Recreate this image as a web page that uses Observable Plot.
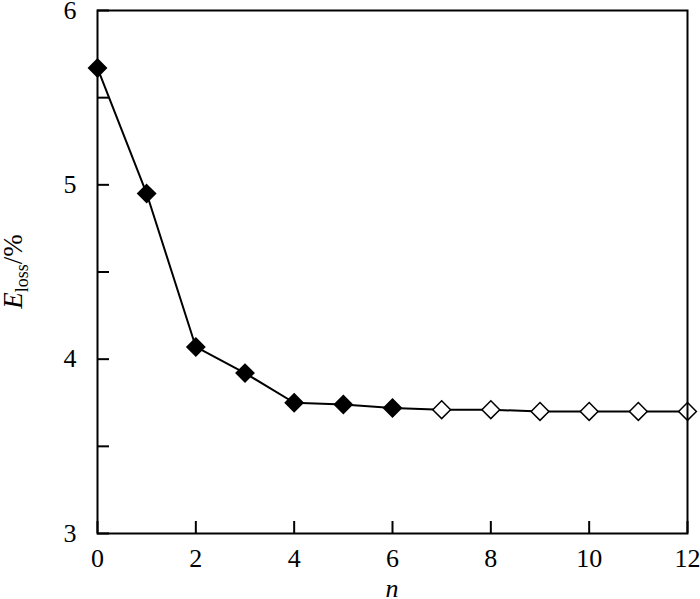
<!DOCTYPE html>
<html><head><meta charset="utf-8">
<script src="https://cdn.jsdelivr.net/npm/d3@7"></script>
<script src="https://cdn.jsdelivr.net/npm/@observablehq/plot@0.6"></script>
<style>
body{margin:0;background:#fff} svg{display:block}
g[aria-label$="tick label"], g[aria-label$="tick label"] text {
  font-family: 'Liberation Serif', 'Times New Roman', serif !important;
  font-size: 26px !important;
  font-variant: normal !important;
}
</style>
</head><body><div id="chart"></div>
<script>
const nValues = [0, 1, 2, 3, 4, 5, 6, 7, 8, 9, 10, 11, 12];
const eLoss = [5.67, 4.95, 4.07, 3.92, 3.75, 3.74, 3.72, 3.71, 3.71, 3.70, 3.70, 3.70, 3.70];
const markerType = ["solid", "solid", "solid", "solid", "solid", "solid", "solid", "open", "open", "open", "open", "open", "open"];
const xTicks = [0, 2, 4, 6, 8, 10, 12];
const yMajorTicks = [3, 4, 5, 6];
const yAllTicks = [3, 3.5, 4, 4.5, 5, 5.5, 6];
const xLabel = "n";
const yLabelMain = "E", yLabelSub = "loss", yLabelUnit = "/%";

const data = nValues.map((n, i) => ({n, e: eLoss[i], type: markerType[i]}));
const font = "'Liberation Serif', 'Times New Roman', serif";
const W = 700, H = 599, ML = 97, MR = 13, MT = 10, MB = 66;

const chart = Plot.plot({
  width: W, height: H,
  marginLeft: ML, marginRight: MR, marginTop: MT, marginBottom: MB,
  style: {fontFamily: font, fontSize: "26px", color: "#000", background: "#fff"},
  x: {domain: [0, 12]},
  y: {domain: [3, 6]},
  marks: [
    Plot.line(data, {x: "n", y: "e", stroke: "#000", strokeWidth: 2}),
    Plot.dot(data, {x: "n", y: "e", symbol: "diamond2", r: 8,
      fill: d => d.type === "solid" ? "#000" : "#fff", stroke: "#000", strokeWidth: 1.5}),
    Plot.axisX({ticks: xTicks, tickSize: -12, tickFormat: () => "", strokeWidth: 2, label: null}),
    Plot.axisX({ticks: xTicks, tickSize: 0, tickPadding: 15, tickFormat: d => String(d), fontSize: 26, label: null}),
    Plot.axisY({ticks: yAllTicks, tickSize: -12, tickFormat: () => "", strokeWidth: 2, label: null}),
    Plot.axisY({ticks: yMajorTicks, tickSize: 0, tickPadding: 21, tickFormat: d => String(d), fontSize: 26, label: null}),
    Plot.frame({stroke: "#000", strokeWidth: 2})
  ]
});

const svg = d3.select(chart);
const yl = svg.append("text")
  .attr("transform", `translate(22,${(MT + H - MB) / 2}) rotate(-90)`)
  .attr("text-anchor", "middle")
  .attr("font-family", font).attr("font-size", 27).attr("fill", "#000");
yl.append("tspan").attr("font-style", "italic").text(yLabelMain);
yl.append("tspan").attr("font-size", 18).attr("dy", 6).text(yLabelSub);
yl.append("tspan").attr("dy", -6).text(yLabelUnit);

svg.append("text")
  .attr("x", (ML + W - MR) / 2).attr("y", 597)
  .attr("text-anchor", "middle")
  .attr("font-family", font).attr("font-size", 26).attr("font-style", "italic")
  .attr("fill", "#000").text(xLabel);

document.getElementById("chart").appendChild(chart);
</script>
</body></html>
